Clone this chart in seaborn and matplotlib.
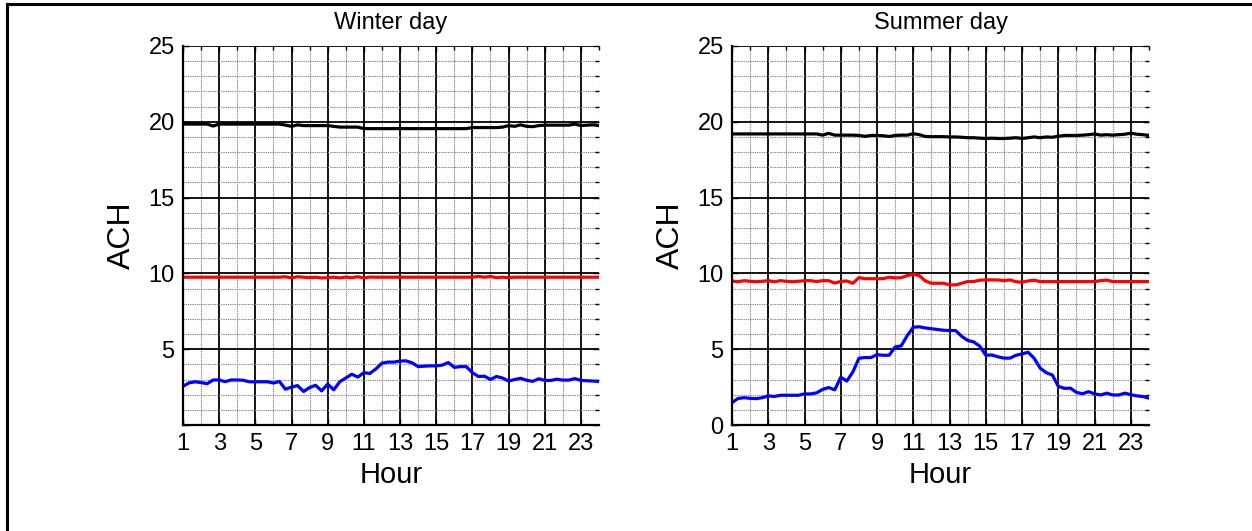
import numpy as np
import pandas as pd
import matplotlib
matplotlib.use("Agg")
import matplotlib.pyplot as plt
from matplotlib.patches import Rectangle
import seaborn as sns

# Time of day, sampled every 20 minutes from hour 1 to hour 24
hours = np.round(np.arange(1, 24 + 1e-9, 1 / 3), 3)

# Winter day air changes per hour
winter_high = [19.85, 19.85, 19.85, 19.85, 19.85, 19.72, 19.85, 19.85, 19.85, 19.85,
               19.85, 19.85, 19.85, 19.85, 19.85, 19.85, 19.85, 19.78, 19.70, 19.80,
               19.75, 19.75, 19.75, 19.75, 19.75, 19.70, 19.65, 19.65, 19.65, 19.65,
               19.55, 19.55, 19.55, 19.55, 19.55, 19.55, 19.55, 19.55, 19.55, 19.55,
               19.55, 19.55, 19.55, 19.55, 19.55, 19.55, 19.55, 19.55, 19.62, 19.62,
               19.62, 19.62, 19.62, 19.65, 19.75, 19.70, 19.80, 19.70, 19.68, 19.75,
               19.78, 19.78, 19.78, 19.78, 19.78, 19.85, 19.75, 19.78, 19.80, 19.75]
winter_mid = [9.75, 9.75, 9.75, 9.75, 9.75, 9.75, 9.75, 9.75, 9.75, 9.75,
              9.75, 9.75, 9.75, 9.75, 9.75, 9.75, 9.75, 9.78, 9.70, 9.78,
              9.75, 9.72, 9.75, 9.70, 9.72, 9.75, 9.70, 9.76, 9.72, 9.78,
              9.70, 9.76, 9.75, 9.75, 9.75, 9.75, 9.75, 9.75, 9.75, 9.75,
              9.75, 9.75, 9.75, 9.75, 9.75, 9.75, 9.75, 9.75, 9.75, 9.80,
              9.75, 9.80, 9.72, 9.75, 9.72, 9.75, 9.75, 9.75, 9.75, 9.75,
              9.75, 9.75, 9.75, 9.75, 9.75, 9.75, 9.75, 9.75, 9.75, 9.75]
winter_low = [2.55, 2.78, 2.85, 2.80, 2.72, 2.97, 2.97, 2.86, 2.97, 2.97,
              2.95, 2.85, 2.85, 2.85, 2.85, 2.77, 2.87, 2.36, 2.50, 2.60,
              2.21, 2.47, 2.62, 2.25, 2.70, 2.32, 2.85, 3.10, 3.35, 3.16,
              3.45, 3.40, 3.70, 4.08, 4.15, 4.15, 4.22, 4.23, 4.10, 3.85,
              3.88, 3.90, 3.90, 3.95, 4.12, 3.80, 3.85, 3.85, 3.45, 3.20,
              3.22, 3.00, 3.20, 3.10, 2.90, 3.00, 3.08, 2.95, 2.88, 3.05,
              2.94, 2.94, 3.02, 2.96, 2.96, 3.06, 2.94, 2.92, 2.90, 2.87]

# Summer day air changes per hour
summer_high = [19.20, 19.20, 19.20, 19.20, 19.20, 19.20, 19.20, 19.20, 19.20, 19.20,
               19.20, 19.20, 19.20, 19.20, 19.20, 19.12, 19.24, 19.12, 19.12, 19.12,
               19.12, 19.10, 19.04, 19.10, 19.10, 19.08, 19.03, 19.10, 19.12, 19.12,
               19.22, 19.15, 19.03, 19.02, 19.02, 19.02, 19.00, 19.00, 18.98, 18.95,
               18.95, 18.92, 18.90, 18.92, 18.90, 18.90, 18.92, 18.95, 18.90, 18.95,
               19.00, 18.95, 19.00, 18.98, 19.05, 19.10, 19.10, 19.10, 19.12, 19.15,
               19.20, 19.12, 19.15, 19.12, 19.15, 19.18, 19.25, 19.18, 19.15, 19.10]
summer_mid = [9.50, 9.45, 9.52, 9.48, 9.45, 9.48, 9.52, 9.45, 9.52, 9.48,
              9.45, 9.48, 9.52, 9.52, 9.46, 9.52, 9.52, 9.36, 9.47, 9.50,
              9.35, 9.72, 9.65, 9.65, 9.65, 9.65, 9.75, 9.70, 9.72, 9.85,
              9.95, 9.85, 9.50, 9.35, 9.35, 9.35, 9.25, 9.24, 9.35, 9.46,
              9.46, 9.55, 9.57, 9.57, 9.57, 9.52, 9.57, 9.45, 9.42, 9.50,
              9.55, 9.46, 9.46, 9.46, 9.46, 9.46, 9.46, 9.46, 9.46, 9.46,
              9.46, 9.52, 9.56, 9.46, 9.46, 9.46, 9.46, 9.46, 9.46, 9.46]
summer_low = [1.48, 1.75, 1.80, 1.76, 1.74, 1.80, 1.92, 1.88, 1.96, 1.96,
              1.96, 1.96, 2.05, 2.05, 2.12, 2.35, 2.47, 2.32, 3.15, 2.90,
              3.50, 4.40, 4.45, 4.45, 4.64, 4.60, 4.60, 5.15, 5.22, 5.90,
              6.45, 6.48, 6.40, 6.35, 6.30, 6.25, 6.23, 6.23, 5.85, 5.58,
              5.48, 5.20, 4.60, 4.62, 4.50, 4.41, 4.41, 4.60, 4.69, 4.80,
              4.40, 3.75, 3.45, 3.30, 2.55, 2.42, 2.43, 2.15, 2.06, 2.20,
              2.05, 1.98, 2.10, 1.98, 1.98, 2.10, 2.00, 1.92, 1.88, 1.77]

series_names = ["high", "mid", "low"]
series_colors = {"high": "#000000", "mid": "#ff0000", "low": "#0000ff"}

panel_titles = ["Winter day", "Summer day"]
x_ticks = list(range(1, 24, 2))
y_ticks = [0, 5, 10, 15, 20, 25]
y_labels_winter = ["", "5", "10", "15", "20", "25"]
y_labels_summer = ["0", "5", "10", "15", "20", "25"]


def long_frame(high, mid, low):
    parts = []
    for name, vals in zip(series_names, (high, mid, low)):
        parts.append(pd.DataFrame({"hour": hours, "ach": vals, "series": name}))
    return pd.concat(parts, ignore_index=True)


frames = [long_frame(winter_high, winter_mid, winter_low),
          long_frame(summer_high, summer_mid, summer_low)]

sns.set_theme(style="white")
plt.rcParams["font.family"] = ["Liberation Sans", "DejaVu Sans"]

W, H = 1252, 531
fig = plt.figure(figsize=(W / 100, H / 100), dpi=100)
fig.patch.set_facecolor("white")

boxes = [(183, 46, 599, 425), (732, 46, 1149, 425)]
ylabel_sets = [y_labels_winter, y_labels_summer]

for (x0, y0, x1, y1), df, title, ylabs in zip(boxes, frames, panel_titles, ylabel_sets):
    ax = fig.add_axes([x0 / W, 1 - y1 / H, (x1 - x0) / W, (y1 - y0) / H])
    ax.set_facecolor("white")
    ax.set_axisbelow(True)
    sns.lineplot(data=df, x="hour", y="ach", hue="series", hue_order=series_names,
                 palette=series_colors, linewidth=2.3, legend=False, ax=ax,
                 estimator=None, sort=False)
    ax.set_xlim(1, 24)
    ax.set_ylim(0, 25)
    ax.set_xticks(x_ticks)
    ax.set_xticklabels([str(t) for t in x_ticks])
    ax.set_xticks(np.arange(1, 25), minor=True)
    ax.set_yticks(y_ticks)
    ax.set_yticklabels(ylabs)
    ax.set_yticks(np.arange(0, 26), minor=True)

    ax.grid(which="minor", color="#8a8a8a", linestyle=(0, (1.2, 0.8)), linewidth=0.8)
    ax.grid(which="major", color="#000000", linestyle="-", linewidth=1.3)

    for side in ("left", "bottom"):
        ax.spines[side].set_visible(True)
        ax.spines[side].set_color("black")
        ax.spines[side].set_linewidth(1.6)
    for side in ("top", "right"):
        ax.spines[side].set_visible(False)

    ax.tick_params(which="major", direction="in", length=4, width=1, colors="black",
                   labelsize=17, pad=6, top=True, right=True, bottom=True, left=True)
    ax.tick_params(which="minor", direction="in", length=3, width=1, colors="black",
                   top=True, right=True, bottom=False, left=False)

    ax.set_title(title, fontsize=17, pad=12, color="black")
    ax.set_xlabel("Hour", fontsize=21, labelpad=4, color="black")
    ax.set_ylabel("ACH", fontsize=23, labelpad=8, color="black")

# Figure frame
fig.add_artist(Rectangle((7 / W, -0.5), 2.0, 1.5 - 4 / H, transform=fig.transFigure,
                         fill=False, edgecolor="black", linewidth=2.2, clip_on=False))

fig.savefig("out.png", dpi=100, facecolor="white")
